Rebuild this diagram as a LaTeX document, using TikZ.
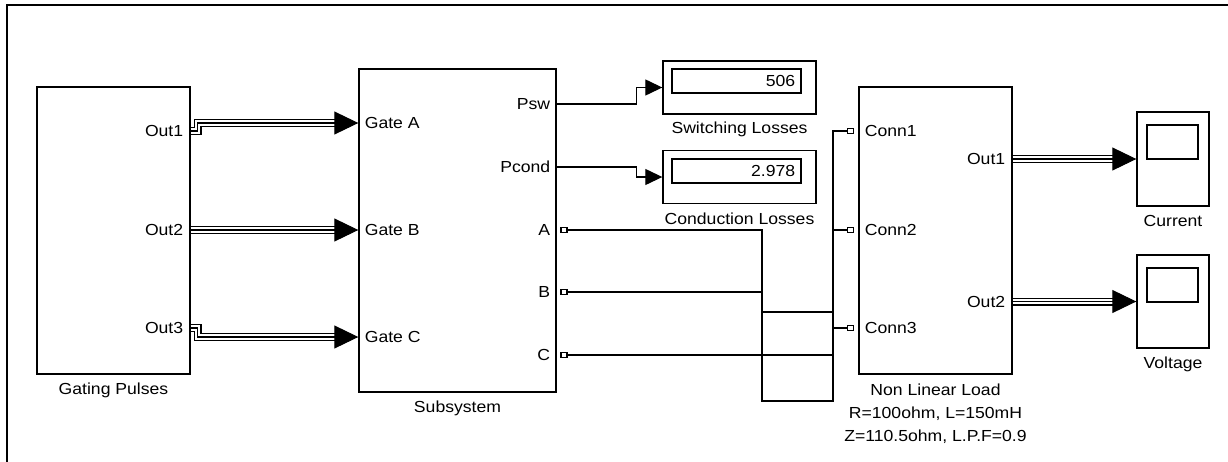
\documentclass[tikz,border=0pt]{standalone}
\usepackage{fontspec}
\setmainfont{Liberation Sans}[FakeStretch=1.1]
\usetikzlibrary{arrows.meta,positioning}
\newcommand{\simfont}{\fontsize{16}{23}\selectfont}

\begin{document}
\begin{tikzpicture}[
    x=1pt, y=-1pt,
    font=\simfont,
    block/.style={rectangle, draw, line width=1.4pt, inner sep=0pt},
    screen/.style={rectangle, draw, line width=1.4pt, inner sep=0pt},
    port/.style={rectangle, draw, fill=white, line width=1.3pt, inner sep=0pt, minimum width=6pt, minimum height=5pt},
    wire/.style={draw, line width=1.3pt},
    sig/.style={draw, line width=1.3pt, -{Triangle[length=17pt, width=16pt]}},
    bus/.style={draw, line width=8pt, shorten >=20pt,
        postaction={draw=white, line width=5.2pt},
        postaction={draw=black, line width=1.3pt}},
    bushead/.style={draw, line width=1pt, {Triangle[length=24pt, width=23pt]}-}
]
\useasboundingbox (0,0) rectangle (1228,461);
\draw[line width=2pt] (7,480) -- (7,5) -- (1240,5);

% blocks
\node [block, minimum width=153pt, minimum height=287pt] (pulses) at (113.5,230.5) {};
\node [below=5pt of pulses] (pulsesname) {Gating Pulses};
\node [block, minimum width=197pt, minimum height=323pt] (subsys) at (457.5,230.5) {};
\node [below=5pt of subsys] (subsysname) {Subsystem};
\node [block, minimum width=153pt, minimum height=287pt] (load) at (935.5,230.5) {};
\node [below=6pt of load, align=center] (loadname) {Non Linear Load\\R=100ohm, L=150mH\\Z=110.5ohm, L.P.F=0.9};

% displays
\node [block, minimum width=153pt, minimum height=53pt] (swdisp) at (739.5,87.5) {};
\node [screen, minimum width=129pt, minimum height=24pt] (swscreen) at (736.5,81) {};
\node [left=3pt of swscreen.east] (swval) {506};
\node [below=4pt of swdisp] (swname) {Switching Losses};
\node [block, minimum width=153pt, minimum height=53pt] (cddisp) at (739.5,177) {};
\node [screen, minimum width=129pt, minimum height=24pt] (cdscreen) at (736.5,171) {};
\node [left=3pt of cdscreen.east] (cdval) {2.978};
\node [below=5pt of cddisp] (cdname) {Conduction Losses};

% scopes
\node [block, minimum width=72pt, minimum height=94pt] (curscope) at (1173,159) {};
\node [screen, minimum width=51pt, minimum height=34pt] (curscreen) at (1172.5,142) {};
\node [below=5pt of curscope] (curname) {Current};
\node [block, minimum width=72pt, minimum height=93pt] (volscope) at (1173,301.5) {};
\node [screen, minimum width=51pt, minimum height=34pt] (volscreen) at (1172.5,285) {};
\node [below=5pt of volscope] (volname) {Voltage};

% port labels
\node [left=4pt] (o1) at (pulses.east |- 0,131) {Out1};
\node [left=4pt] (o2) at (pulses.east |- 0,230) {Out2};
\node [left=4pt] (o3) at (pulses.east |- 0,328) {Out3};
\node [right=3pt] (ga) at (subsys.west |- 0,123) {Gate A};
\node [right=3pt] (gb) at (subsys.west |- 0,230) {Gate B};
\node [right=3pt] (gc) at (subsys.west |- 0,337) {Gate C};
\node [left=3pt] (psw) at (subsys.east |- 0,104) {Psw};
\node [left=3pt] (pcond) at (subsys.east |- 0,167) {Pcond};
\node [left=3pt] (la) at (subsys.east |- 0,230) {A};
\node [left=3pt] (lb) at (subsys.east |- 0,292) {B};
\node [left=3pt] (lc) at (subsys.east |- 0,355) {C};
\node [right=3pt] (lc1) at (load.west |- 0,131) {Conn1};
\node [right=3pt] (lc2) at (load.west |- 0,230) {Conn2};
\node [right=3pt] (lc3) at (load.west |- 0,328) {Conn3};
\node [left=4pt] (lo1) at (load.east |- 0,159) {Out1};
\node [left=4pt] (lo2) at (load.east |- 0,301.5) {Out2};

% electrical ports
\node [port] (pa) at (564,230) {};
\node [port] (pb) at (564,292) {};
\node [port] (pc) at (564,355) {};
\node [port] (c1) at (850.5,131) {};
\node [port] (c2) at (850.5,230) {};
\node [port] (c3) at (850.5,328) {};

% gate buses
\path [bus] (pulses.east |- o1) -- ++(7,0) |- (subsys.west |- ga);
\path [bus] (pulses.east |- o2) -- (subsys.west |- gb);
\path [bus] (pulses.east |- o3) -- ++(7,0) |- (subsys.west |- gc);
\path [bushead] (subsys.west |- ga) -- ++(-26,0);
\path [bushead] (subsys.west |- gb) -- ++(-26,0);
\path [bushead] (subsys.west |- gc) -- ++(-26,0);

% losses
\path [sig] (subsys.east |- psw) -- ++(80,0) |- (swdisp.west);
\path [sig] (subsys.east |- pcond) -- ++(80,0) |- (cddisp.west);

% load wiring
\coordinate (jl) at (762,401);
\coordinate (jr) at (833,401);
\path [wire] (pa.east) -| (jl) -- (jr) |- (c1.west);
\path [wire] (pb.east) -- (pb.east -| jl);
\path [wire] (jl |- 0,312) -- (jr |- 0,312);
\path [wire] (pc.east) -- (pc.east -| jr);
\path [wire] (c2.west -| jr) -- (c2.west);
\path [wire] (c3.west -| jr) -- (c3.west);

% scopes
\path [bus] (load.east |- lo1) -- (curscope.west);
\path [bus] (load.east |- lo2) -- (volscope.west);
\path [bushead] (curscope.west) -- ++(-26,0);
\path [bushead] (volscope.west) -- ++(-26,0);

\end{tikzpicture}
\end{document}
